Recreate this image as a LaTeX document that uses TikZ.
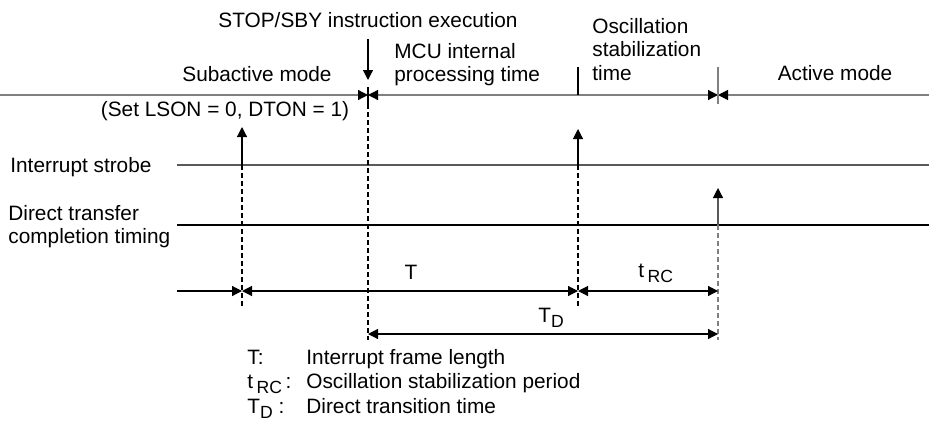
\documentclass[tikz,border=0pt]{standalone}
\usepackage{fontspec}
\setmainfont{Liberation Sans}
\usetikzlibrary{arrows.meta}
\definecolor{lgray}{HTML}{808080}
\definecolor{dgray}{HTML}{5A5A5A}
\newcommand{\subsc}[1]{\raisebox{-2.8pt}{\fontsize{8.8}{9}\selectfont #1}}
\begin{document}
\begin{tikzpicture}[x=0.5pt,y=-0.5pt,
  lbl/.style={inner sep=0pt, font=\fontsize{10.4}{12}\selectfont},
  ln/.style={line width=0.6pt},
  arw/.style={ln,-{Triangle[length=5pt,width=5pt,color=black]}},
  barw/.style={ln,{Triangle[length=5pt,width=5pt,color=black]}-{Triangle[length=5pt,width=5pt,color=black]}},
  rarw/.style={ln,{Triangle[length=5pt,width=5pt,color=black]}-},
  dsh/.style={ln,dash pattern=on 2.5pt off 1.5pt},
]
\useasboundingbox (0,0) rectangle (929,423);

% ---------- texts ----------
\node[lbl,anchor=base] (stop) at (368,27) {STOP/SBY instruction execution};
\node[lbl,anchor=base] (sub) at (257,81) {Subactive mode};
\node[lbl,anchor=base west] (mcu1) at (394,58) {MCU internal};
\node[lbl,anchor=base west] (mcu2) at (394,81) {processing time};
\node[lbl,anchor=base west] (osc1) at (592,33) {Oscillation};
\node[lbl,anchor=base west] (osc2) at (592,56) {stabilization};
\node[lbl,anchor=base west] (osc3) at (592,80) {time};
\node[lbl,anchor=base] (act) at (835,80) {Active mode};
\node[lbl,anchor=base] (set) at (225,116) {(Set LSON = 0, DTON = 1)};
\node[lbl,anchor=base west] (istr) at (10,172) {Interrupt strobe};
\node[lbl,anchor=base west] (dtr1) at (8,220) {Direct transfer};
\node[lbl,anchor=base west] (dtr2) at (8,243) {completion timing};
\node[lbl,anchor=base] (tT) at (411,279) {T};
\node[lbl,anchor=base west] (tRC) at (638,277) {t\,\subsc{RC}};
\node[lbl,anchor=base west] (tTD) at (538,322) {T\subsc{D}};
\node[lbl,anchor=base west] (k1) at (247,364) {T:};
\node[lbl,anchor=base west] (v1) at (306,364) {Interrupt frame length};
\node[lbl,anchor=base west] (k2) at (247,388) {t\,\subsc{RC}\,:};
\node[lbl,anchor=base west] (v2) at (306,388) {Oscillation stabilization period};
\node[lbl,anchor=base west] (k3) at (247,413) {T\subsc{D} :};
\node[lbl,anchor=base west] (v3) at (306,413) {Direct transition time};

% ---------- coordinates ----------
\coordinate (tl) at (0,95);
\coordinate (tr) at (929,95);
\coordinate (ta) at (368,95);
\coordinate (tc) at (718,95);
\coordinate (ia) at (177,165);
\coordinate (ib) at (929,165);
\coordinate (da) at (177,225);
\coordinate (db) at (929,225);
\coordinate (ma) at (177,291);
\coordinate (m1) at (242,291);
\coordinate (m2) at (578,291);
\coordinate (m3) at (718,291);
\coordinate (n1) at (368,334);
\coordinate (n2) at (718,334);

% ---------- horizontal lines ----------
\draw[arw,lgray] (tl) -- (ta);
\draw[barw,lgray] (ta) -- (tc);
\draw[rarw,lgray] (tc) -- (tr);
\draw[ln,dgray] (ia) -- (ib);
\draw[ln,black] (da) -- (db);

% ---------- top marks ----------
\coordinate (sa0) at (368,39);
\coordinate (sa1) at (368,80);
\draw[arw] (sa0) -- (sa1);
\coordinate (k368a) at (368,87);
\coordinate (k368b) at (368,104);
\draw[ln] (k368a) -- (k368b);
\coordinate (k578a) at (578,67);
\coordinate (k578b) at (578,95);
\draw[ln] (k578a) -- (k578b);
\coordinate (k718a) at (718,67);
\coordinate (k718b) at (718,104);
\draw[ln,lgray] (k718a) -- (k718b);

% ---------- event arrows ----------
\coordinate (e1a) at (242,165);
\coordinate (e1b) at (242,127);
\draw[arw] (e1a) -- (e1b);
\coordinate (e2a) at (578,165);
\coordinate (e2b) at (578,129);
\draw[arw] (e2a) -- (e2b);
\coordinate (e3a) at (718,225);
\coordinate (e3b) at (718,188);
\draw[arw,dgray] (e3a) -- (e3b);

% ---------- dashed verticals ----------
\coordinate (d1) at (242,309);
\coordinate (d2) at (578,309);
\coordinate (d3) at (368,340);
\coordinate (d4) at (718,340);
\draw[dsh] (e1a) -- (d1);
\draw[dsh] (e2a) -- (d2);
\draw[dsh] (k368b) -- (d3);
\draw[dsh,lgray] (e3a) -- (d4);

% ---------- dimension lines ----------
\draw[arw] (ma) -- (m1);
\draw[barw] (m1) -- (m2);
\draw[barw] (m2) -- (m3);
\draw[barw] (n1) -- (n2);
\end{tikzpicture}
\end{document}
